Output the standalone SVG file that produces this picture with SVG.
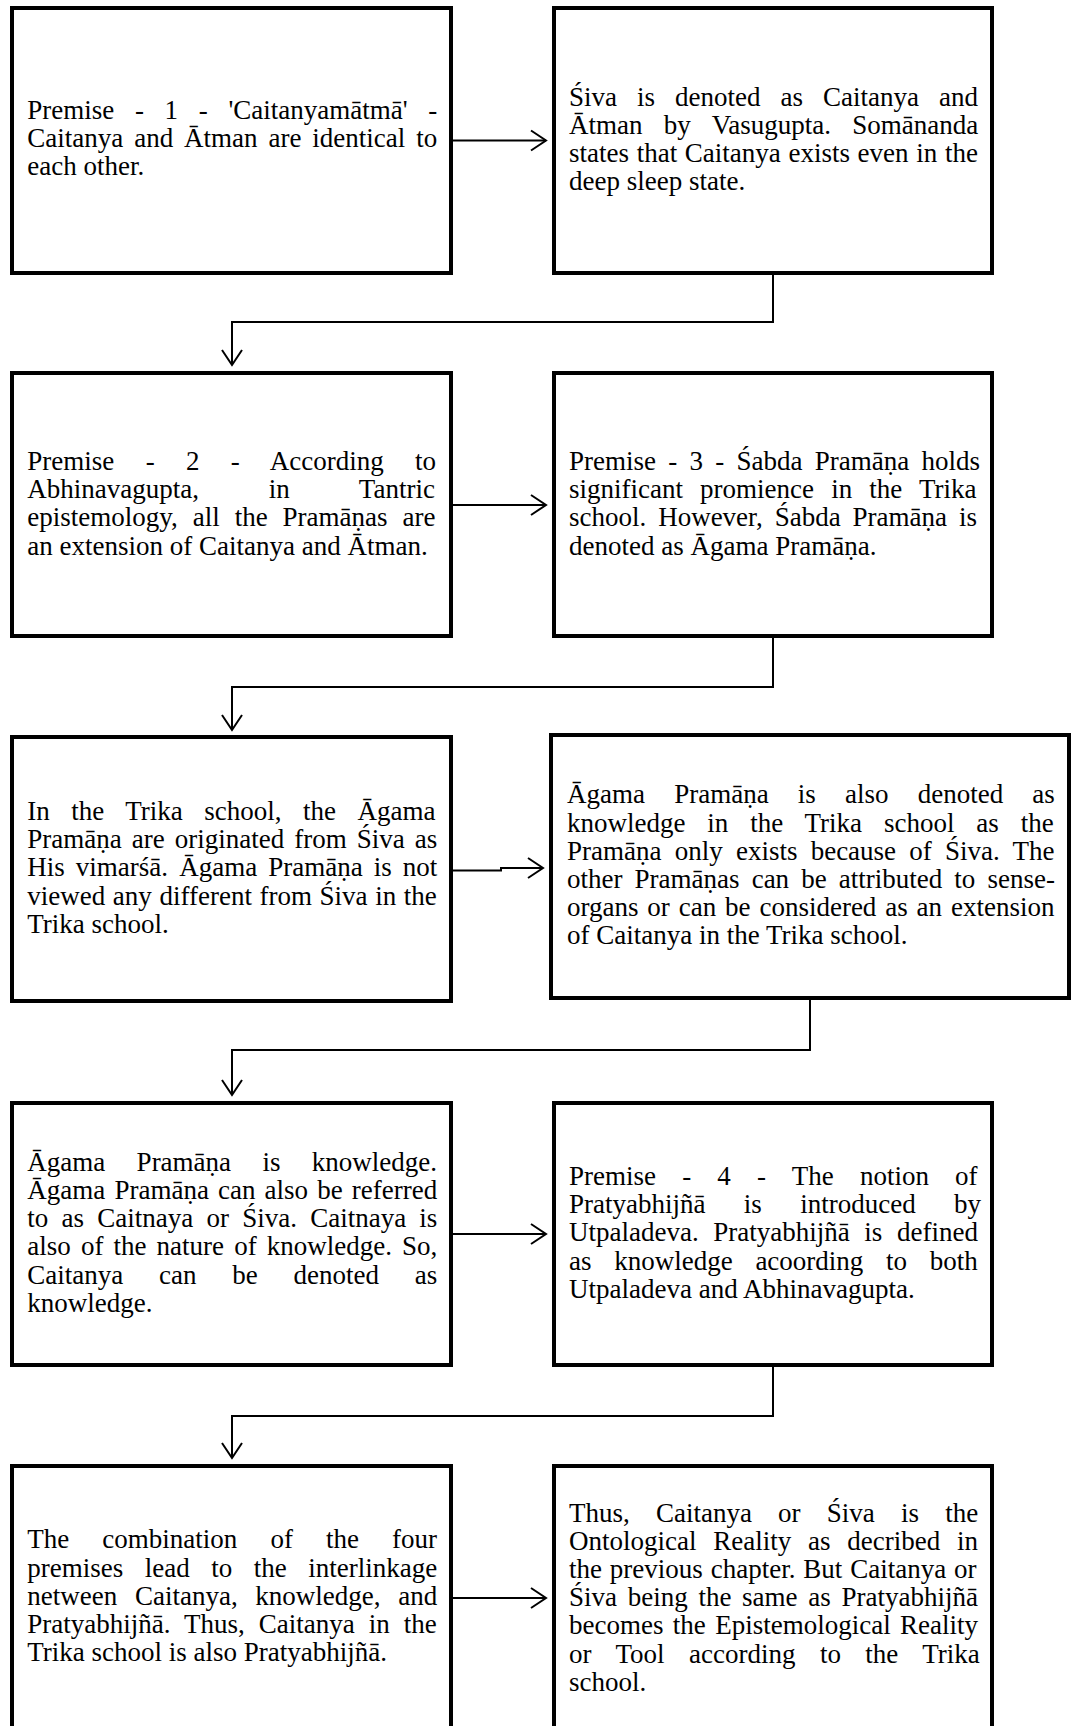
<svg xmlns="http://www.w3.org/2000/svg" width="1071" height="1726" viewBox="0 0 1071 1726">
<style>
.box{fill:#fff;stroke:#000;stroke-width:4}
.t{font-family:"Liberation Serif","Times New Roman",serif;font-size:27px;fill:#000}
.c{fill:none;stroke:#000;stroke-width:2}
</style>
<defs>
<marker id="ah" markerUnits="userSpaceOnUse" viewBox="0 0 20 24" markerWidth="20" markerHeight="24" refX="16" refY="12" orient="auto">
<path d="M1,2 L16,12 L1,22" fill="none" stroke="#000" stroke-width="2"/>
</marker>
</defs>
<rect width="1071" height="1726" fill="#fff"/>

<g id="connectors">
<path class="c" d="M451,140.5 H546" marker-end="url(#ah)"/>
<path class="c" d="M773,273 V322 H232 V365" marker-end="url(#ah)"/>
<path class="c" d="M451,505 H546" marker-end="url(#ah)"/>
<path class="c" d="M773,636 V687 H232 V730" marker-end="url(#ah)"/>
<path class="c" d="M451,870.5 H501 V868 H543" marker-end="url(#ah)"/>
<path class="c" d="M810,998 V1050 H232 V1095" marker-end="url(#ah)"/>
<path class="c" d="M451,1234 H546" marker-end="url(#ah)"/>
<path class="c" d="M773,1365 V1416 H232 V1458" marker-end="url(#ah)"/>
<path class="c" d="M451,1598 H546" marker-end="url(#ah)"/>
</g>

<g id="n1">
<rect class="box" x="12" y="8" width="439" height="265"/>
<text class="t" x="27.3" y="119.3" word-spacing="13.92">Premise - 1 - 'Caitanyamātmā' -</text>
<text class="t" x="27.3" y="147.3" word-spacing="4.16">Caitanya and Ātman are identical to</text>
<text class="t" x="27.3" y="175.3">each other.</text>
</g>

<g id="n2">
<rect class="box" x="554" y="8" width="438" height="265"/>
<text class="t" x="569" y="106" word-spacing="13.25">Śiva is denoted as Caitanya and</text>
<text class="t" x="569" y="134" word-spacing="14.6">Ātman by Vasugupta. Somānanda</text>
<text class="t" x="569" y="162" word-spacing="0.92">states that Caitanya exists even in the</text>
<text class="t" x="569" y="190">deep sleep state.</text>
</g>

<g id="n3">
<rect class="box" x="12" y="373" width="439" height="263"/>
<text class="t" x="27.3" y="470" word-spacing="24.6">Premise - 2 - According to</text>
<text class="t" x="27.3" y="498.2" word-spacing="62.9">Abhinavagupta, in Tantric</text>
<text class="t" x="27.3" y="526.4" word-spacing="8.2">epistemology, all the Pramāṇas are</text>
<text class="t" x="27.3" y="554.6">an extension of Caitanya and Ātman.</text>
</g>

<g id="n4">
<rect class="box" x="554" y="373" width="438" height="263"/>
<text class="t" x="569" y="470" word-spacing="5.5">Premise - 3 - Śabda Pramāṇa holds</text>
<text class="t" x="569" y="498.2" word-spacing="10.4">significant promience in the Trika</text>
<text class="t" x="569" y="526.4" word-spacing="5.15">school. However, Śabda Pramāṇa is</text>
<text class="t" x="569" y="554.6">denoted as Āgama Pramāṇa.</text>
</g>

<g id="n5">
<rect class="box" x="12" y="737" width="439" height="264"/>
<text class="t" x="27.3" y="820" word-spacing="14.76">In the Trika school, the Āgama</text>
<text class="t" x="27.3" y="848.2" word-spacing="3.28">Pramāṇa are originated from Śiva as</text>
<text class="t" x="27.3" y="876.4" word-spacing="4.31">His vimarśā. Āgama Pramāṇa is not</text>
<text class="t" x="27.3" y="904.6" word-spacing="0.85">viewed any different from Śiva in the</text>
<text class="t" x="27.3" y="932.8">Trika school.</text>
</g>

<g id="n6">
<rect class="box" x="551" y="735" width="518" height="263"/>
<text class="t" x="567" y="803.3" word-spacing="22.44">Āgama Pramāṇa is also denoted as</text>
<text class="t" x="567" y="831.5" word-spacing="15.12">knowledge in the Trika school as the</text>
<text class="t" x="567" y="859.7" word-spacing="6.48">Pramāṇa only exists because of Śiva. The</text>
<text class="t" x="567" y="887.9" word-spacing="5.35">other Pramāṇas can be attributed to sense-</text>
<text class="t" x="567" y="916.1" word-spacing="2.12">organs or can be considered as an extension</text>
<text class="t" x="567" y="944.3">of Caitanya in the Trika school.</text>
</g>

<g id="n7">
<rect class="box" x="12" y="1103" width="439" height="262"/>
<text class="t" x="27.3" y="1170.7" word-spacing="24.6">Āgama Pramāṇa is knowledge.</text>
<text class="t" x="27.3" y="1198.9" word-spacing="2.39">Āgama Pramāṇa can also be referred</text>
<text class="t" x="27.3" y="1227.1" word-spacing="6.48">to as Caitnaya or Śiva. Caitnaya is</text>
<text class="t" x="27.3" y="1255.3" word-spacing="3.35">also of the nature of knowledge. So,</text>
<text class="t" x="27.3" y="1283.5" word-spacing="29.04">Caitanya can be denoted as</text>
<text class="t" x="27.3" y="1311.7">knowledge.</text>
</g>

<g id="n8">
<rect class="box" x="554" y="1103" width="438" height="262"/>
<text class="t" x="569" y="1185" word-spacing="19.44">Premise - 4 - The notion of</text>
<text class="t" x="569" y="1213.2" word-spacing="31.6">Pratyabhijñā is introduced by</text>
<text class="t" x="569" y="1241.4" word-spacing="7.85">Utpaladeva. Pratyabhijñā is defined</text>
<text class="t" x="569" y="1269.6" word-spacing="15.96">as knowledge acoording to both</text>
<text class="t" x="569" y="1297.8">Utpaladeva and Abhinavagupta.</text>
</g>

<g id="n9">
<rect class="box" x="12" y="1466" width="439" height="272"/>
<text class="t" x="27.3" y="1548.3" word-spacing="26.35">The combination of the four</text>
<text class="t" x="27.3" y="1576.5" word-spacing="14.76">premises lead to the interlinkage</text>
<text class="t" x="27.3" y="1604.7" word-spacing="10.94">netween Caitanya, knowledge, and</text>
<text class="t" x="27.3" y="1632.9" word-spacing="7.25">Pratyabhijñā. Thus, Caitanya in the</text>
<text class="t" x="27.3" y="1661.1">Trika school is also Pratyabhijñā.</text>
</g>

<g id="n10">
<rect class="box" x="554" y="1466" width="438" height="272"/>
<text class="t" x="569" y="1521.5" word-spacing="19.44">Thus, Caitanya or Śiva is the</text>
<text class="t" x="569" y="1549.7" word-spacing="10">Ontological Reality as decribed in</text>
<text class="t" x="569" y="1577.9" word-spacing="1.12">the previous chapter. But Caitanya or</text>
<text class="t" x="569" y="1606.1" word-spacing="3.95">Śiva being the same as Pratyabhijñā</text>
<text class="t" x="569" y="1634.3" word-spacing="2.62">becomes the Epistemological Reality</text>
<text class="t" x="569" y="1662.5" word-spacing="17.7">or Tool according to the Trika</text>
<text class="t" x="569" y="1690.7">school.</text>
</g>
</svg>
